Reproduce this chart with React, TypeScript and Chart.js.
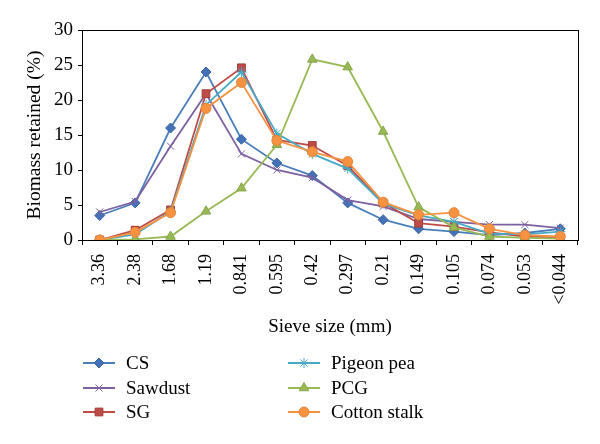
import React, { useEffect, useRef } from "react";
import { Chart, registerables } from "chart.js";
import { drawPoint } from "chart.js/helpers";

Chart.register(...registerables);

const categories = ["3.36", "2.38", "1.68", "1.19", "0.841", "0.595", "0.42", "0.297", "0.21", "0.149", "0.105", "0.074", "0.053", "<0.044"];
const csValues = [3.5, 5.3, 16.0, 24.0, 14.4, 11.0, 9.2, 5.3, 2.9, 1.6, 1.2, 0.7, 1.0, 1.6];
const sawdustValues = [4.0, 5.5, 13.4, 20.9, 12.3, 10.0, 8.9, 5.7, 4.8, 3.0, 2.6, 2.2, 2.2, 1.7];
const sgValues = [0.0, 1.4, 4.3, 20.9, 24.6, 14.3, 13.5, 10.6, 5.3, 2.4, 1.9, 1.1, 0.5, 0.4];
const pigeonPeaValues = [0.0, 0.8, 4.1, 19.3, 24.0, 15.2, 12.3, 10.2, 5.2, 3.5, 2.6, 0.9, 0.8, 1.2];
const pcgValues = [0.0, 0.1, 0.5, 4.1, 7.4, 13.6, 25.8, 24.7, 15.5, 4.7, 1.8, 0.5, 0.3, 0.2];
const cottonStalkValues = [0.0, 1.1, 3.9, 18.8, 22.5, 14.2, 12.6, 11.2, 5.4, 3.6, 3.9, 1.6, 0.7, 0.5];
const yTicks = [0, 5, 10, 15, 20, 25, 30];

const FONT = "'Liberation Serif', 'Times New Roman', serif";

const series = [
  { label: "CS", data: csValues, line: "#4A7EBB", fill: "#4472B8", border: "#3B64A0", style: "rectRot", radius: 5 },
  { label: "Sawdust", data: sawdustValues, line: "#7D60A0", fill: "#7D60A0", border: "#7D60A0", style: "crossRot", radius: 5 },
  { label: "SG", data: sgValues, line: "#BE4B48", fill: "#BE4B48", border: "#A33E3B", style: "rect", radius: 5.5 },
  { label: "Pigeon pea", data: pigeonPeaValues, line: "#46AAC5", fill: "#46AAC5", border: "#46AAC5", style: "star", radius: 5 },
  { label: "PCG", data: pcgValues, line: "#98B954", fill: "#98B954", border: "#86A64A", style: "triangle", radius: 5.5 },
  { label: "Cotton stalk", data: cottonStalkValues, line: "#F69240", fill: "#F69240", border: "#E6863A", style: "circle", radius: 5 },
];

const boxPlugin = {
  id: "boxPlugin",
  afterDraw(chart: any) {
    const { ctx, chartArea } = chart;
    ctx.save();
    ctx.strokeStyle = "#000";
    ctx.lineWidth = 1;
    ctx.strokeRect(Math.round(chartArea.left) + 0.5, Math.round(chartArea.top) + 0.5, Math.round(chartArea.right - chartArea.left), Math.round(chartArea.bottom - chartArea.top));
    ctx.restore();
  },
};

const legendPlugin = {
  id: "customLegend",
  afterDraw(chart: any) {
    const { ctx } = chart;
    const colX = [83, 288];
    const rowY = [363, 388, 412];
    ctx.save();
    chart.data.datasets.forEach((ds: any, i: number) => {
      const col = Math.floor(i / 3);
      const row = i % 3;
      const x0 = colX[col];
      const y = rowY[row];
      ctx.strokeStyle = ds.borderColor;
      ctx.lineWidth = 2;
      ctx.beginPath();
      ctx.moveTo(x0, y);
      ctx.lineTo(x0 + 32, y);
      ctx.stroke();
      ctx.fillStyle = ds.pointBackgroundColor;
      ctx.strokeStyle = ds.pointBorderColor;
      ctx.lineWidth = ds.pointBorderWidth;
      drawPoint(ctx, { pointStyle: ds.pointStyle, rotation: 0, radius: ds.pointRadius, borderWidth: ds.pointBorderWidth }, x0 + 16, y);
      ctx.fillStyle = "#000";
      ctx.font = "normal 19px 'Liberation Serif'";
      ctx.textBaseline = "middle";
      ctx.textAlign = "left";
      ctx.fillText(ds.label, x0 + 43, y + 1);
    });
    ctx.restore();
  },
};

export default function App() {
  const ref = useRef<HTMLCanvasElement | null>(null);
  useEffect(() => {
    document.body.style.margin = "0";
    if (!ref.current) return;
    const chart = new Chart(ref.current, {
      type: "line",
      data: {
        labels: categories,
        datasets: series.map((s, i) => ({
          label: s.label,
          data: s.data,
          borderColor: s.line,
          backgroundColor: s.fill,
          borderWidth: 1.8,
          pointStyle: s.style as any,
          pointRadius: s.radius,
          pointBackgroundColor: s.fill,
          pointBorderColor: s.border,
          pointBorderWidth: 1,
          tension: 0,
          fill: false,
          order: series.length - i,
        })),
      },
      options: {
        responsive: false,
        animation: false,
        devicePixelRatio: 1,
        layout: { padding: { left: 22, right: 22, top: 30, bottom: 104 } },
        plugins: { legend: { display: false }, tooltip: { enabled: false } },
        scales: {
          x: {
            type: "category",
            offset: true,
            grid: { offset: true, drawOnChartArea: false, color: "#000", tickLength: 5, tickWidth: 1 },
            border: { color: "#000", width: 1 },
            ticks: { color: "#000", font: { family: FONT, size: 18 }, minRotation: 90, maxRotation: 90, padding: 9, autoSkip: false },
            title: { display: true, text: "Sieve size (mm)", color: "#000", font: { family: FONT, size: 19 }, padding: { top: 0, bottom: 2 } },
            afterFit(scale: any) {
              scale.height = 100;
            },
          },
          y: {
            min: 0,
            max: 30,
            afterBuildTicks(scale: any) {
              scale.ticks = yTicks.map((v) => ({ value: v }));
            },
            grid: { drawOnChartArea: false, color: "#000", tickLength: 4 },
            border: { color: "#000", width: 1 },
            ticks: { color: "#000", font: { family: FONT, size: 19 }, padding: 5 },
            title: { display: true, text: "Biomass retained (%)", color: "#000", font: { family: FONT, size: 19.5 }, padding: { top: 1, bottom: 0 } },
            afterFit(scale: any) {
              scale.width = 60;
            },
          },
        },
      },
      plugins: [boxPlugin, legendPlugin],
    });
    return () => chart.destroy();
  }, []);
  return <canvas ref={ref} width={600} height={444} style={{ display: "block" }} />;
}
